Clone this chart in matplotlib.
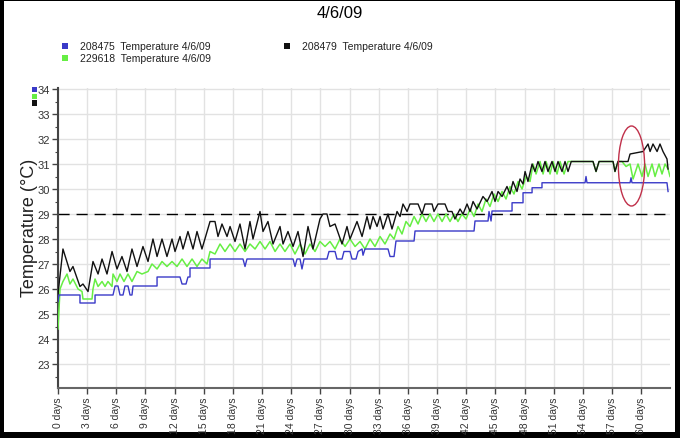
import matplotlib
matplotlib.use("Agg")
import matplotlib.pyplot as plt
from matplotlib.patches import Rectangle, Ellipse

plt.rcParams['font.family'] = ['Liberation Sans', 'DejaVu Sans']

title = "4/6/09"
series_names = ["208475  Temperature 4/6/09", "229618  Temperature 4/6/09", "208479  Temperature 4/6/09"]
y_label = "Temperature (°C)"
x_tick_days = list(range(0, 61, 3))
x_tick_labels = [f"{d} days" for d in x_tick_days]
y_ticks = list(range(23, 35))
threshold = 29.0

# 208479 (black)
black_days = [0.00, 0.51, 1.23, 1.54, 2.26, 2.57, 3.09, 3.60, 4.12, 4.53, 5.04, 5.56, 6.07, 6.58, 7.10, 7.61,
              8.13, 8.74, 9.26, 9.77, 10.19, 10.70, 11.21, 11.73, 12.04, 12.55, 12.86, 13.37, 13.89, 14.30,
              14.81, 15.64, 16.15, 16.46, 16.87, 17.39, 17.70, 18.21, 18.72, 19.24, 19.75, 20.06, 20.78,
              21.09, 21.60, 22.12, 22.84, 23.15, 23.66, 24.18, 24.69, 25.21, 25.72, 26.23, 26.95, 27.26,
              27.67, 27.98, 28.50, 29.22, 29.73, 30.04, 30.76, 31.28, 31.79, 32.10, 32.41, 32.82, 33.13,
              33.44, 33.95, 34.36, 34.88, 35.19, 35.49, 35.91, 36.21, 37.04, 37.45, 37.76, 38.48, 38.68,
              39.09, 39.81, 40.12, 40.53, 40.84, 41.36, 41.67, 42.08, 42.39, 42.70, 43.11, 43.72, 44.14,
              44.65, 44.96, 45.27, 45.68, 46.19, 46.50, 46.81, 47.22, 47.53, 47.84, 48.05, 48.35, 48.77,
              49.07, 49.38, 49.79, 50.10, 50.41, 50.82, 51.13, 51.44, 51.85, 52.16, 52.47, 52.80, 55.04,
              55.35, 55.66, 57.10, 57.30, 57.61, 58.64, 58.85, 60.19, 60.70, 60.91, 61.21, 61.63, 61.93,
              62.24, 62.65, 62.76]
black_temp = [25.8, 27.6, 26.7, 26.9, 26.1, 26.2, 25.9, 27.1, 26.6, 27.2, 26.6, 27.5, 26.8, 27.3, 26.7, 27.6,
              26.9, 27.7, 27.1, 28.0, 27.3, 28.0, 27.3, 28.0, 27.5, 28.1, 27.6, 28.3, 27.6, 28.3,
              27.6, 28.7, 28.7, 28.1, 28.6, 28.1, 28.5, 27.9, 28.6, 27.6, 28.7, 28.0, 29.1,
              28.3, 28.7, 27.8, 28.5, 27.8, 28.3, 27.7, 28.3, 27.3, 28.5, 27.6, 28.8, 29.0,
              29.0, 28.5, 28.6, 27.8, 28.5, 28.0, 28.7, 28.1, 28.9, 28.4, 28.9, 28.5, 28.9,
              28.4, 29.0, 28.4, 29.1, 28.9, 29.4, 29.1, 29.4, 29.4, 29.0, 29.4, 29.4, 29.1,
              29.4, 29.4, 29.1, 29.1, 28.8, 29.2, 29.0, 29.4, 29.1, 29.5, 29.2, 29.7, 29.5,
              29.9, 29.5, 29.9, 29.7, 30.1, 29.8, 30.3, 29.9, 30.4, 30.2, 30.7, 30.3, 31.0,
              30.7, 31.1, 30.7, 31.1, 30.7, 31.1, 30.7, 31.1, 30.7, 31.1, 30.7, 31.1, 31.1,
              30.7, 31.1, 31.1, 30.7, 31.1, 31.1, 31.4, 31.5, 31.8, 31.5, 31.8, 31.5, 31.8,
              31.5, 31.2, 30.8]

# 229618 (green)
green_days = [0.00, 0.21, 0.51, 0.93, 1.23, 1.54, 2.06, 2.47, 2.57, 3.50, 3.60, 3.81, 4.12, 4.53, 4.84, 5.14,
              5.56, 5.66, 6.07, 6.38, 6.79, 7.20, 7.61, 8.13, 8.64, 9.26, 9.67, 10.19, 10.70, 11.21, 11.73,
              12.24, 12.76, 13.27, 13.79, 14.30, 14.81, 15.33, 15.64, 16.15, 16.67, 17.18, 17.70, 18.21,
              18.72, 19.24, 19.75, 20.27, 20.78, 21.30, 21.81, 22.33, 22.84, 23.35, 23.87, 24.38, 24.90,
              25.41, 25.93, 26.44, 26.95, 27.47, 27.98, 28.50, 29.01, 29.53, 30.04, 30.56, 31.07, 31.58,
              32.10, 32.61, 33.13, 33.64, 34.16, 34.57, 34.98, 35.39, 35.80, 36.21, 36.63, 37.04, 37.45,
              37.86, 38.27, 38.68, 39.09, 39.51, 39.92, 40.33, 40.74, 41.15, 41.56, 41.98, 42.39, 42.80,
              43.21, 43.62, 44.03, 44.44, 44.86, 45.27, 45.68, 46.09, 46.50, 46.91, 47.33, 47.74, 48.15,
              48.56, 48.87, 49.18, 49.59, 49.90, 50.21, 50.62, 50.93, 51.34, 51.65, 52.06, 52.47, 55.04,
              55.35, 55.66, 57.10, 57.30, 57.61, 58.02, 58.44, 58.85, 59.16, 59.67, 60.08, 60.39, 60.70,
              61.11, 61.42, 61.83, 62.14, 62.45, 62.76, 62.96]
green_temp = [24.4, 26.0, 26.3, 26.6, 26.2, 26.4, 26.0, 25.9, 25.6, 25.6, 26.0, 26.4, 26.1, 26.3, 26.1, 26.3,
              26.1, 26.6, 26.3, 26.6, 26.3, 26.6, 26.3, 26.7, 26.6, 26.7, 27.0, 26.8, 27.1, 26.9, 27.1,
              26.9, 27.2, 26.9, 27.2, 26.9, 27.2, 27.0, 27.5, 27.4, 27.8, 27.5, 27.8, 27.5,
              27.8, 27.5, 27.8, 27.6, 27.9, 27.6, 27.9, 27.5, 27.8, 27.5, 27.8, 27.4, 27.8,
              27.4, 27.8, 27.5, 27.9, 27.7, 27.9, 27.6, 28.0, 27.7, 28.0, 27.7, 27.9, 27.6,
              28.0, 27.7, 28.1, 27.8, 28.2, 28.0, 28.5, 28.2, 28.7, 28.5, 28.9, 28.6, 29.0,
              28.7, 29.0, 28.7, 29.0, 28.7, 29.0, 28.7, 29.0, 28.7, 29.0, 28.8, 29.2, 28.9,
              29.4, 29.1, 29.6, 29.3, 29.8, 29.5, 29.9, 29.6, 30.1, 29.8, 30.3, 30.0, 30.5,
              30.3, 31.0, 30.6, 31.1, 30.6, 31.1, 30.6, 31.1, 30.6, 31.1, 30.6, 31.1, 31.1,
              30.7, 31.1, 31.1, 30.7, 31.1, 31.1, 30.9, 31.0, 30.4, 31.0, 30.5, 31.0, 30.5,
              31.0, 30.5, 31.0, 30.6, 31.0, 30.8, 30.5]

# 208475 (blue)
blue_days = [0.00, 0.10, 2.26, 2.26, 3.81, 3.81, 5.66, 5.87, 6.17, 6.38, 6.69, 6.89, 7.20, 7.41, 7.61, 7.72,
             10.19, 10.19, 12.55, 12.76, 13.17, 13.37, 13.58, 13.58, 15.64, 15.64, 19.03, 19.24, 19.44,
             24.18, 24.38, 24.59, 24.90, 25.10, 25.31, 27.67, 27.88, 28.50, 28.70, 29.22, 29.42, 30.04,
             30.25, 30.66, 30.87, 31.28, 31.38, 31.58, 33.95, 34.16, 34.57, 34.77, 36.63, 36.73, 42.80,
             42.90, 44.24, 44.34, 44.55, 44.65, 46.71, 46.71, 47.84, 47.84, 48.77, 48.77, 49.79, 49.79,
             54.22, 54.32, 54.42, 58.85, 58.95, 59.05, 62.65, 62.76]
blue_temp = [25.5, 25.76, 25.76, 25.44, 25.44, 25.76, 25.76, 26.12, 26.12, 25.76, 25.76, 26.12, 26.12, 25.76, 25.76, 26.12,
             26.12, 26.48, 26.48, 26.2, 26.2, 26.48, 26.48, 26.84, 26.84, 27.2, 27.2, 26.9, 27.2,
             27.2, 26.9, 27.2, 27.2, 26.8, 27.2, 27.2, 27.5, 27.5, 27.2, 27.2, 27.5, 27.5,
             27.2, 27.2, 27.5, 27.6, 27.35, 27.6, 27.6, 27.3, 27.3, 27.92, 27.92, 28.32, 28.32,
             28.72, 28.72, 29.1, 28.72, 29.12, 29.12, 29.45, 29.45, 29.85, 29.85, 30.05, 30.05, 30.25,
             30.25, 30.5, 30.25, 30.25, 30.45, 30.25, 30.25, 29.9]

col_blue = '#3a3ac8'
col_green = '#66ee44'
col_black = '#111111'

fig = plt.figure(figsize=(6.8, 4.39), dpi=100)
fig.patch.set_facecolor('black')
fig.add_artist(Rectangle((4/680, 6/439), 671/680, 431/439, transform=fig.transFigure,
                         facecolor='white', edgecolor='none', zorder=0))

ax = fig.add_axes([58/680, 50/439, 612/680, 300/439])
ax.set_facecolor('white')
ax.set_xlim(0, 62.96)
ax.set_ylim(22.04, 34.04)

ax.plot(green_days, green_temp, color=col_green, lw=1.1, zorder=3)
ax.plot(black_days, black_temp, color=col_black, lw=1.0, zorder=4)
ax.plot(blue_days, blue_temp, color=col_blue, lw=1.0, zorder=5)

ax.axhline(threshold, color='black', lw=1.0, dashes=(8, 5), zorder=2)
ax.add_patch(Ellipse((59.0, 30.92), 2.7, 3.2, fill=False, edgecolor='#c0304a', lw=1.0, zorder=6))

ax.set_xticks(x_tick_days)
ax.set_xticklabels(x_tick_labels, rotation=90, fontsize=7.5, color='#333333')
ax.set_yticks(y_ticks)
ax.set_yticklabels([str(v) for v in y_ticks], fontsize=8, color='#333333')
ax.set_yticks([v + 0.5 for v in range(22, 34)], minor=True)
ax.tick_params(axis='both', which='major', length=4, width=1, color='#444444', pad=2)
ax.tick_params(axis='y', which='minor', length=2, width=0.8, color='#444444')
ax.grid(True, which='major', color='#e2e2e2', lw=1.0, zorder=0)
ax.set_axisbelow(True)
for s in ['top', 'right']:
    ax.spines[s].set_visible(False)
ax.spines['left'].set_color('#444444')
ax.spines['left'].set_linewidth(1.5)
ax.spines['bottom'].set_color('#666666')
ax.spines['bottom'].set_linewidth(1.5)

fig.text(30/680, 1 - 228/439, y_label, rotation=90, ha='center', va='center',
         fontsize=13, color='#222222')

fig.text(340/680, 1 - 13/439, title, ha='center', va='center', fontsize=12)

def fig_sq(cx, cy, size, color):
    fig.add_artist(Rectangle(((cx - size/2)/680, 1 - (cy + size/2)/439), size/680, size/439,
                             transform=fig.transFigure, facecolor=color, edgecolor='none'))

legend_pos = [(65, 47), (65, 59), (287, 47)]
legend_cols = [col_blue, col_green, col_black]
for (lx, ly), c, name in zip(legend_pos, legend_cols, series_names):
    fig_sq(lx, ly, 5.5, c)
    fig.text((lx + 15)/680, 1 - ly/439, name, ha='left', va='center', fontsize=7.5, color='#222222')

fig_sq(34.5, 90.5, 5.5, col_blue)
fig_sq(34.5, 97.5, 5.5, col_green)
fig_sq(34.5, 104, 5.5, col_black)

fig.savefig('out.png', dpi=100, facecolor=fig.get_facecolor())
